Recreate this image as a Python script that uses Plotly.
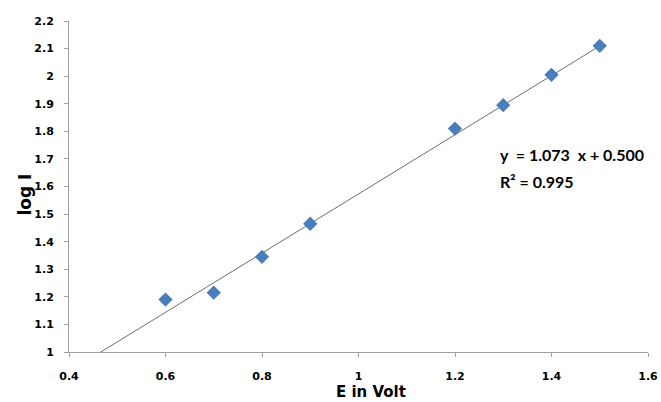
import plotly.graph_objects as go

E_volt = [0.6, 0.7, 0.8, 0.9, 1.2, 1.3, 1.4, 1.5]
log_I = [1.19, 1.215, 1.345, 1.465, 1.81, 1.895, 2.005, 2.11]
slope = 1.073
intercept = 0.500
r2 = 0.995
trend_x = [0.4, 1.5]
trend_y = [slope * x + intercept for x in trend_x]

fig = go.Figure()
fig.add_trace(go.Scatter(x=trend_x, y=trend_y, mode="lines",
                         line=dict(color="#6e6e6e", width=1), showlegend=False,
                         hoverinfo="skip"))
fig.add_trace(go.Scatter(x=E_volt, y=log_I, mode="markers",
                         marker=dict(symbol="diamond", size=11, color="#4a7ebb"),
                         showlegend=False))

fig.add_annotation(xref="paper", yref="paper", x=0.741, y=0.562, xanchor="left", yanchor="bottom",
                   text=f"<b>y  = {slope:.3f}  x + {intercept:.3f}</b>", showarrow=False,
                   font=dict(family="Lato", size=16, color="black"))
fig.add_annotation(xref="paper", yref="paper", x=0.741, y=0.55, xanchor="left", yanchor="top",
                   text=f"<b>R² = {r2:.3f}</b>", showarrow=False,
                   font=dict(family="Lato", size=16, color="black"))

# axis titles
fig.add_annotation(xref="paper", yref="paper", x=0.0, y=0.5, xshift=-45, yshift=-8,
                   xanchor="center", yanchor="middle",
                   text="<b>log I</b>", textangle=-90, showarrow=False,
                   font=dict(family="DejaVu Sans", size=17, color="black"))
fig.add_annotation(xref="paper", yref="paper", x=0.5, y=0.0, xshift=12, yshift=-40,
                   xanchor="center", yanchor="middle",
                   text="<b>E in Volt</b>", showarrow=False,
                   font=dict(family="DejaVu Sans", size=15, color="black"))

fig.update_layout(
    width=661, height=402,
    margin=dict(l=69, r=13, t=21, b=50),
    plot_bgcolor="white", paper_bgcolor="white",
    font=dict(family="DejaVu Sans", size=11, color="black"),
    xaxis=dict(range=[0.4, 1.6], dtick=0.2, tick0=0.4, showgrid=False, zeroline=False,
               showline=True, linecolor="#a0a0a0", linewidth=1, automargin=False,
               ticks="outside", ticklen=4, tickcolor="#a0a0a0", ticklabelstandoff=10,
               tickfont=dict(family="DejaVu Sans", size=11, color="black", weight="bold")),
    yaxis=dict(range=[1, 2.2], dtick=0.1, tick0=1, showgrid=False, zeroline=False,
               showline=True, linecolor="#a0a0a0", linewidth=1, automargin=False,
               ticks="outside", ticklen=4, tickcolor="#a0a0a0", ticklabelstandoff=8,
               tickformat="~g",
               tickfont=dict(family="DejaVu Sans", size=11, color="black", weight="bold")),
)
fig.write_html("out.html")
